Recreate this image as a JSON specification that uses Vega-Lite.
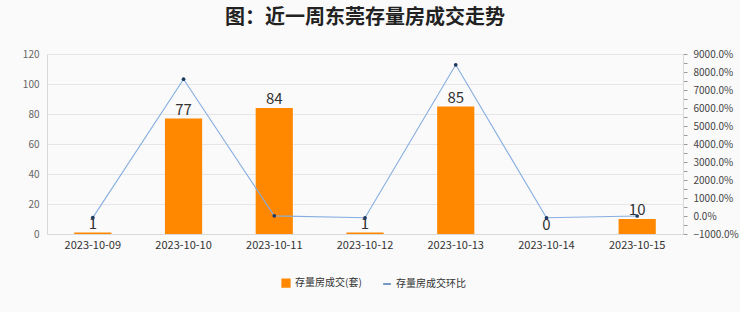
{
  "$schema": "https://vega.github.io/schema/vega-lite/v6.json",
  "autosize": "none",
  "width": 636,
  "height": 180,
  "padding": {"left": 47, "top": 54, "right": 57, "bottom": 78},
  "background": "#fafafa",
  "title": {
    "text": "图：近一周东莞存量房成交走势",
    "font": "Noto Sans CJK SC",
    "fontSize": 20,
    "fontWeight": "bold",
    "color": "#222222",
    "anchor": "middle",
    "offset": 21
  },
  "config": {
    "font": "Noto Sans CJK SC",
    "view": {"stroke": null},
    "axis": {"labelOverlap": false}
  },
  "data": {
    "values": [
      {"date": "2023-10-09", "count": 1, "ratio": -90},
      {"date": "2023-10-10", "count": 77, "ratio": 7600},
      {"date": "2023-10-11", "count": 84, "ratio": 9.1},
      {"date": "2023-10-12", "count": 1, "ratio": -98.8},
      {"date": "2023-10-13", "count": 85, "ratio": 8400},
      {"date": "2023-10-14", "count": 0, "ratio": -100},
      {"date": "2023-10-15", "count": 10, "ratio": 0}
    ]
  },
  "encoding": {
    "x": {
      "field": "date",
      "type": "nominal",
      "scale": {"paddingInner": 0.59, "paddingOuter": 0.3},
      "axis": {
        "title": null,
        "labelAngle": 0,
        "labelFontSize": 11,
        "labelColor": "#333333",
        "ticks": false,
        "domainColor": "#d9d9d9",
        "labelPadding": 5,
        "labelOverlap": false
      }
    }
  },
  "layer": [
    {
      "encoding": {
        "y": {
          "field": "count",
          "type": "quantitative",
          "scale": {"domain": [0, 120]},
          "axis": {
            "title": null,
            "values": [0, 20, 40, 60, 80, 100, 120],
            "ticks": false,
            "labelOverlap": false,
            "labelFontSize": 10,
            "labelColor": "#666666",
            "domainColor": "#d9d9d9",
            "gridColor": "#e6e6e6",
            "labelPadding": 8
          }
        }
      },
      "layer": [
        {
          "mark": {"type": "bar"},
          "encoding": {
            "color": {
              "datum": "存量房成交(套)",
              "type": "nominal",
              "scale": {"domain": ["存量房成交(套)", "存量房成交环比"], "range": ["#ff8800", "#6f9fd6"]},
              "legend": {
                "title": null,
                "orient": "none",
                "legendX": 234,
                "legendY": 224,
                "direction": "horizontal",
                "labelFontSize": 10,
                "labelColor": "#333333",
                "symbolSize": 60,
                "columnPadding": 18,
                "encode": {
                  "symbols": {
                    "update": {
                      "shape": {"signal": "datum.value === '存量房成交环比' ? 'stroke' : 'square'"},
                      "strokeWidth": {"value": 1.5},
                      "stroke": {"signal": "datum.value === '存量房成交环比' ? '#4a78b0' : '#ff8800'"}
                    }
                  }
                }
              }
            }
          }
        },
        {
          "mark": {"type": "text", "dy": -9, "fontSize": 15, "color": "#333333"},
          "encoding": {
            "text": {"field": "count", "type": "quantitative"}
          }
        }
      ]
    },
    {
      "encoding": {
        "y": {
          "field": "ratio",
          "type": "quantitative",
          "scale": {"domain": [-1000, 9000]},
          "axis": {
            "orient": "right",
            "title": null,
            "grid": false,
            "labelOverlap": false,
            "values": [-1000, -500, 0, 500, 1000, 1500, 2000, 2500, 3000, 3500, 4000, 4500, 5000, 5500, 6000, 6500, 7000, 7500, 8000, 8500, 9000],
            "labelExpr": "datum.value % 1000 === 0 ? format(datum.value, '.1f') + '%' : ''",
            "tickSize": 4,
            "tickColor": "#999999",
            "domainColor": "#d9d9d9",
            "labelFontSize": 10,
            "labelColor": "#444444",
            "labelPadding": 6
          }
        }
      },
      "layer": [
        {
          "mark": {"type": "line", "color": "#86aee0", "strokeWidth": 1.1}
        },
        {
          "mark": {"type": "point", "filled": true, "size": 14, "color": "#1f3a5f", "opacity": 1}
        }
      ]
    }
  ],
  "resolve": {"scale": {"y": "independent"}}
}
